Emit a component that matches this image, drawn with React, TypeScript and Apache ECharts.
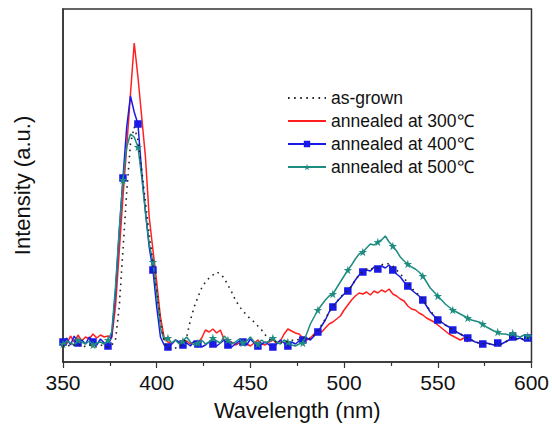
import React, { useEffect, useRef } from "react";
import * as echarts from "echarts";

// Wavelength grid (nm), 2 nm steps from 350 to 600
const wavelengths: number[] = [];
for (let w = 350; w <= 600; w += 2) wavelengths.push(w);

const seriesNames = [
  "as-grown",
  "annealed at 300\u2103",
  "annealed at 400\u2103",
  "annealed at 500\u2103",
];

// Intensity values (a.u.)
const asGrown = [
  16, 18, 15, 17, 16, 18, 15, 17, 16, 15, 17, 16, 15, 17,
  22, 55, 112, 170, 218, 235, 222, 192, 160, 128, 100, 72, 42, 20,
  14, 13, 14, 15, 18, 25, 42, 55, 65, 74, 80, 84, 87, 90, 88, 84, 77, 70, 62, 56,
  51, 47, 43, 40, 36, 32, 27, 23, 21, 20, 19, 21, 20, 22, 21, 23, 24,
  25, 23, 27, 31, 37, 43, 50, 56, 60, 65, 68, 72, 76, 82, 87, 90, 93, 92, 95, 94,
  97, 99, 98, 96, 92, 88, 84, 79, 74, 70, 67, 63, 57, 51, 47, 43, 40, 37, 35, 32,
  30, 28, 26, 24, 22, 20, 19, 18, 19, 18, 17, 19, 18, 20, 22, 25, 23, 24, 22, 24, 23,
];

const annealed300 = [
  22, 18, 26, 20, 27, 21, 25, 23, 28, 24, 27, 25, 26, 24,
  55, 110, 165, 215, 268, 319, 285, 245, 205, 145, 112, 80, 45, 24,
  20, 18, 22, 19, 17, 21, 18, 20, 19, 24, 32, 30, 33, 29, 32, 22, 18, 20, 17, 19,
  21, 18, 16, 19, 22, 18, 17, 20, 22, 19, 21, 28, 33, 31, 29, 28, 24,
  22, 24, 28, 29, 30, 34, 38, 40, 43, 46, 52, 57, 62, 66, 69, 68, 70, 67, 71, 69,
  72, 70, 73, 68, 66, 63, 61, 56, 53, 52, 49, 47, 44, 42, 40, 37, 34, 31, 28, 26,
  24, 22, 24, 20,
];

const annealed400 = [
  20, 24, 17, 26, 19, 22, 18, 25, 20, 17, 23, 19, 16, 26,
  70, 130, 184, 235, 266, 250, 238, 190, 150, 115, 92, 55, 25, 17,
  15, 18, 22, 20, 17, 19, 16, 21, 18, 15, 17, 20, 18, 16, 19, 22, 17, 15, 18, 21,
  20, 17, 23, 19, 16, 18, 20, 17, 15, 18, 22, 19, 16, 20, 18, 21, 22,
  24, 22, 26, 30, 36, 42, 50, 55, 60, 64, 68, 71, 76, 82, 87, 90, 92, 91, 95, 93,
  96, 94, 97, 92, 88, 85, 80, 76, 72, 69, 66, 62, 56, 50, 46, 42, 40, 37, 35, 32,
  30, 28, 26, 24, 22, 20, 19, 18, 19, 18, 17, 19, 18, 20, 22, 25, 23, 24, 22, 24, 23,
];

const annealed500 = [
  18, 21, 19, 17, 22, 20, 18, 21, 17, 19, 20, 18, 22, 30,
  75, 132, 182, 215, 228, 225, 215, 185, 150, 118, 100, 68, 34, 22,
  24, 19, 22, 18, 21, 25, 20, 17, 19, 22, 18, 20, 24, 21, 19, 26, 22, 18, 20, 23,
  19, 21, 25, 20, 18, 22, 19, 21, 24, 20, 18, 22, 20, 17, 16, 18, 19,
  28, 38, 45, 52, 57, 62, 66, 68, 74, 80, 86, 92, 97, 103, 108, 110, 114, 118, 117, 120,
  122, 126, 120, 116, 111, 105, 101, 98, 95, 93, 90, 86, 80, 74, 70, 66, 62, 58, 55, 52,
  50, 48, 46, 44, 42, 41, 40, 38, 35, 33, 31, 30, 28, 28, 27, 29, 26, 25, 27, 26, 26,
];

const xTicks = { min: 350, max: 600, interval: 50 };

const STAR =
  "path://M50,0 L61,35 L98,35 L68,57 L79,91 L50,70 L21,91 L32,57 L2,35 L39,35 Z";

const FONT = "'Liberation Sans', Arial, Helvetica, sans-serif";

function build(values: number[], markerEvery: number) {
  const out: any[] = [];
  for (let i = 0; i < values.length; i++) {
    if (markerEvery <= 0) {
      out.push([wavelengths[i], values[i]]);
      continue;
    }
    const item: any = { value: [wavelengths[i], values[i]] };
    if (i % markerEvery !== 0) item.symbol = "none";
    out.push(item);
  }
  return out;
}

export default function App() {
  const ref = useRef<HTMLDivElement>(null);
  useEffect(() => {
    if (!ref.current) return;
    const chart = echarts.init(ref.current, undefined, { renderer: "svg" });
    const colors = ["#222222", "#ff1f1f", "#1a1ae6", "#1e8c80"];
    const hidden = { color: "rgba(0,0,0,0)", borderWidth: 0, opacity: 0 };
    chart.setOption({
      animation: false,
      backgroundColor: "#ffffff",
      textStyle: { fontFamily: FONT },
      grid: {
        left: 63,
        right: 20,
        top: 9,
        bottom: 70,
        show: true,
        borderColor: "#333",
        borderWidth: 1.5,
      },
      legend: {
        orient: "vertical",
        left: 282,
        top: 84,
        itemWidth: 38,
        itemHeight: 8,
        itemGap: 5,
        textStyle: { fontSize: 17.5, color: "#111", fontFamily: FONT },
        data: [
          { name: seriesNames[0], itemStyle: hidden },
          { name: seriesNames[1], itemStyle: hidden },
          { name: seriesNames[2] },
          { name: seriesNames[3] },
        ],
      },
      xAxis: {
        type: "value",
        min: xTicks.min,
        max: xTicks.max,
        interval: xTicks.interval,
        name: "Wavelength (nm)",
        nameLocation: "middle",
        nameGap: 37,
        nameTextStyle: { fontSize: 22, color: "#111", fontFamily: FONT },
        axisLine: { lineStyle: { color: "#333", width: 1.5 } },
        axisTick: { show: true, inside: false, length: 6, lineStyle: { color: "#333", width: 1.2 } },
        minorTick: { show: true, splitNumber: 2, length: 4, lineStyle: { color: "#333", width: 1.2 } },
        axisLabel: { fontSize: 21, color: "#111", margin: 10, fontFamily: FONT },
        splitLine: { show: false },
      },
      yAxis: {
        type: "value",
        min: 0,
        max: 353,
        name: "Intensity (a.u.)",
        nameLocation: "middle",
        nameGap: 30,
        nameTextStyle: { fontSize: 22, color: "#111", fontFamily: FONT },
        axisLine: { show: true, lineStyle: { color: "#333", width: 1.5 } },
        axisTick: { show: false },
        axisLabel: { show: false },
        splitLine: { show: false },
      },
      series: [
        {
          name: seriesNames[1],
          type: "line",
          symbol: "none",
          showSymbol: false,
          color: colors[1],
          lineStyle: { color: colors[1], width: 1.5 },
          data: build(annealed300, 0),
          z: 2,
        },
        {
          name: seriesNames[2],
          type: "line",
          symbol: "rect",
          symbolSize: 7.5,
          showAllSymbol: true,
          color: colors[2],
          itemStyle: { color: colors[2] },
          lineStyle: { color: colors[2], width: 1.5 },
          data: build(annealed400, 4),
          z: 3,
        },
        {
          name: seriesNames[3],
          type: "line",
          symbol: STAR,
          symbolSize: 8.5,
          showAllSymbol: true,
          color: colors[3],
          itemStyle: { color: colors[3] },
          lineStyle: { color: colors[3], width: 1.5 },
          data: build(annealed500, 4),
          z: 4,
        },
        {
          name: seriesNames[0],
          type: "line",
          symbol: "none",
          showSymbol: false,
          color: colors[0],
          lineStyle: { color: colors[0], width: 1.6, type: [1.6, 4.5] },
          data: build(asGrown, 0),
          z: 5,
        },
      ],
    });
    return () => chart.dispose();
  }, []);
  return (
    <div
      ref={ref}
      style={{ position: "fixed", left: 0, top: 0, width: 552, height: 432, background: "#fff" }}
    />
  );
}
